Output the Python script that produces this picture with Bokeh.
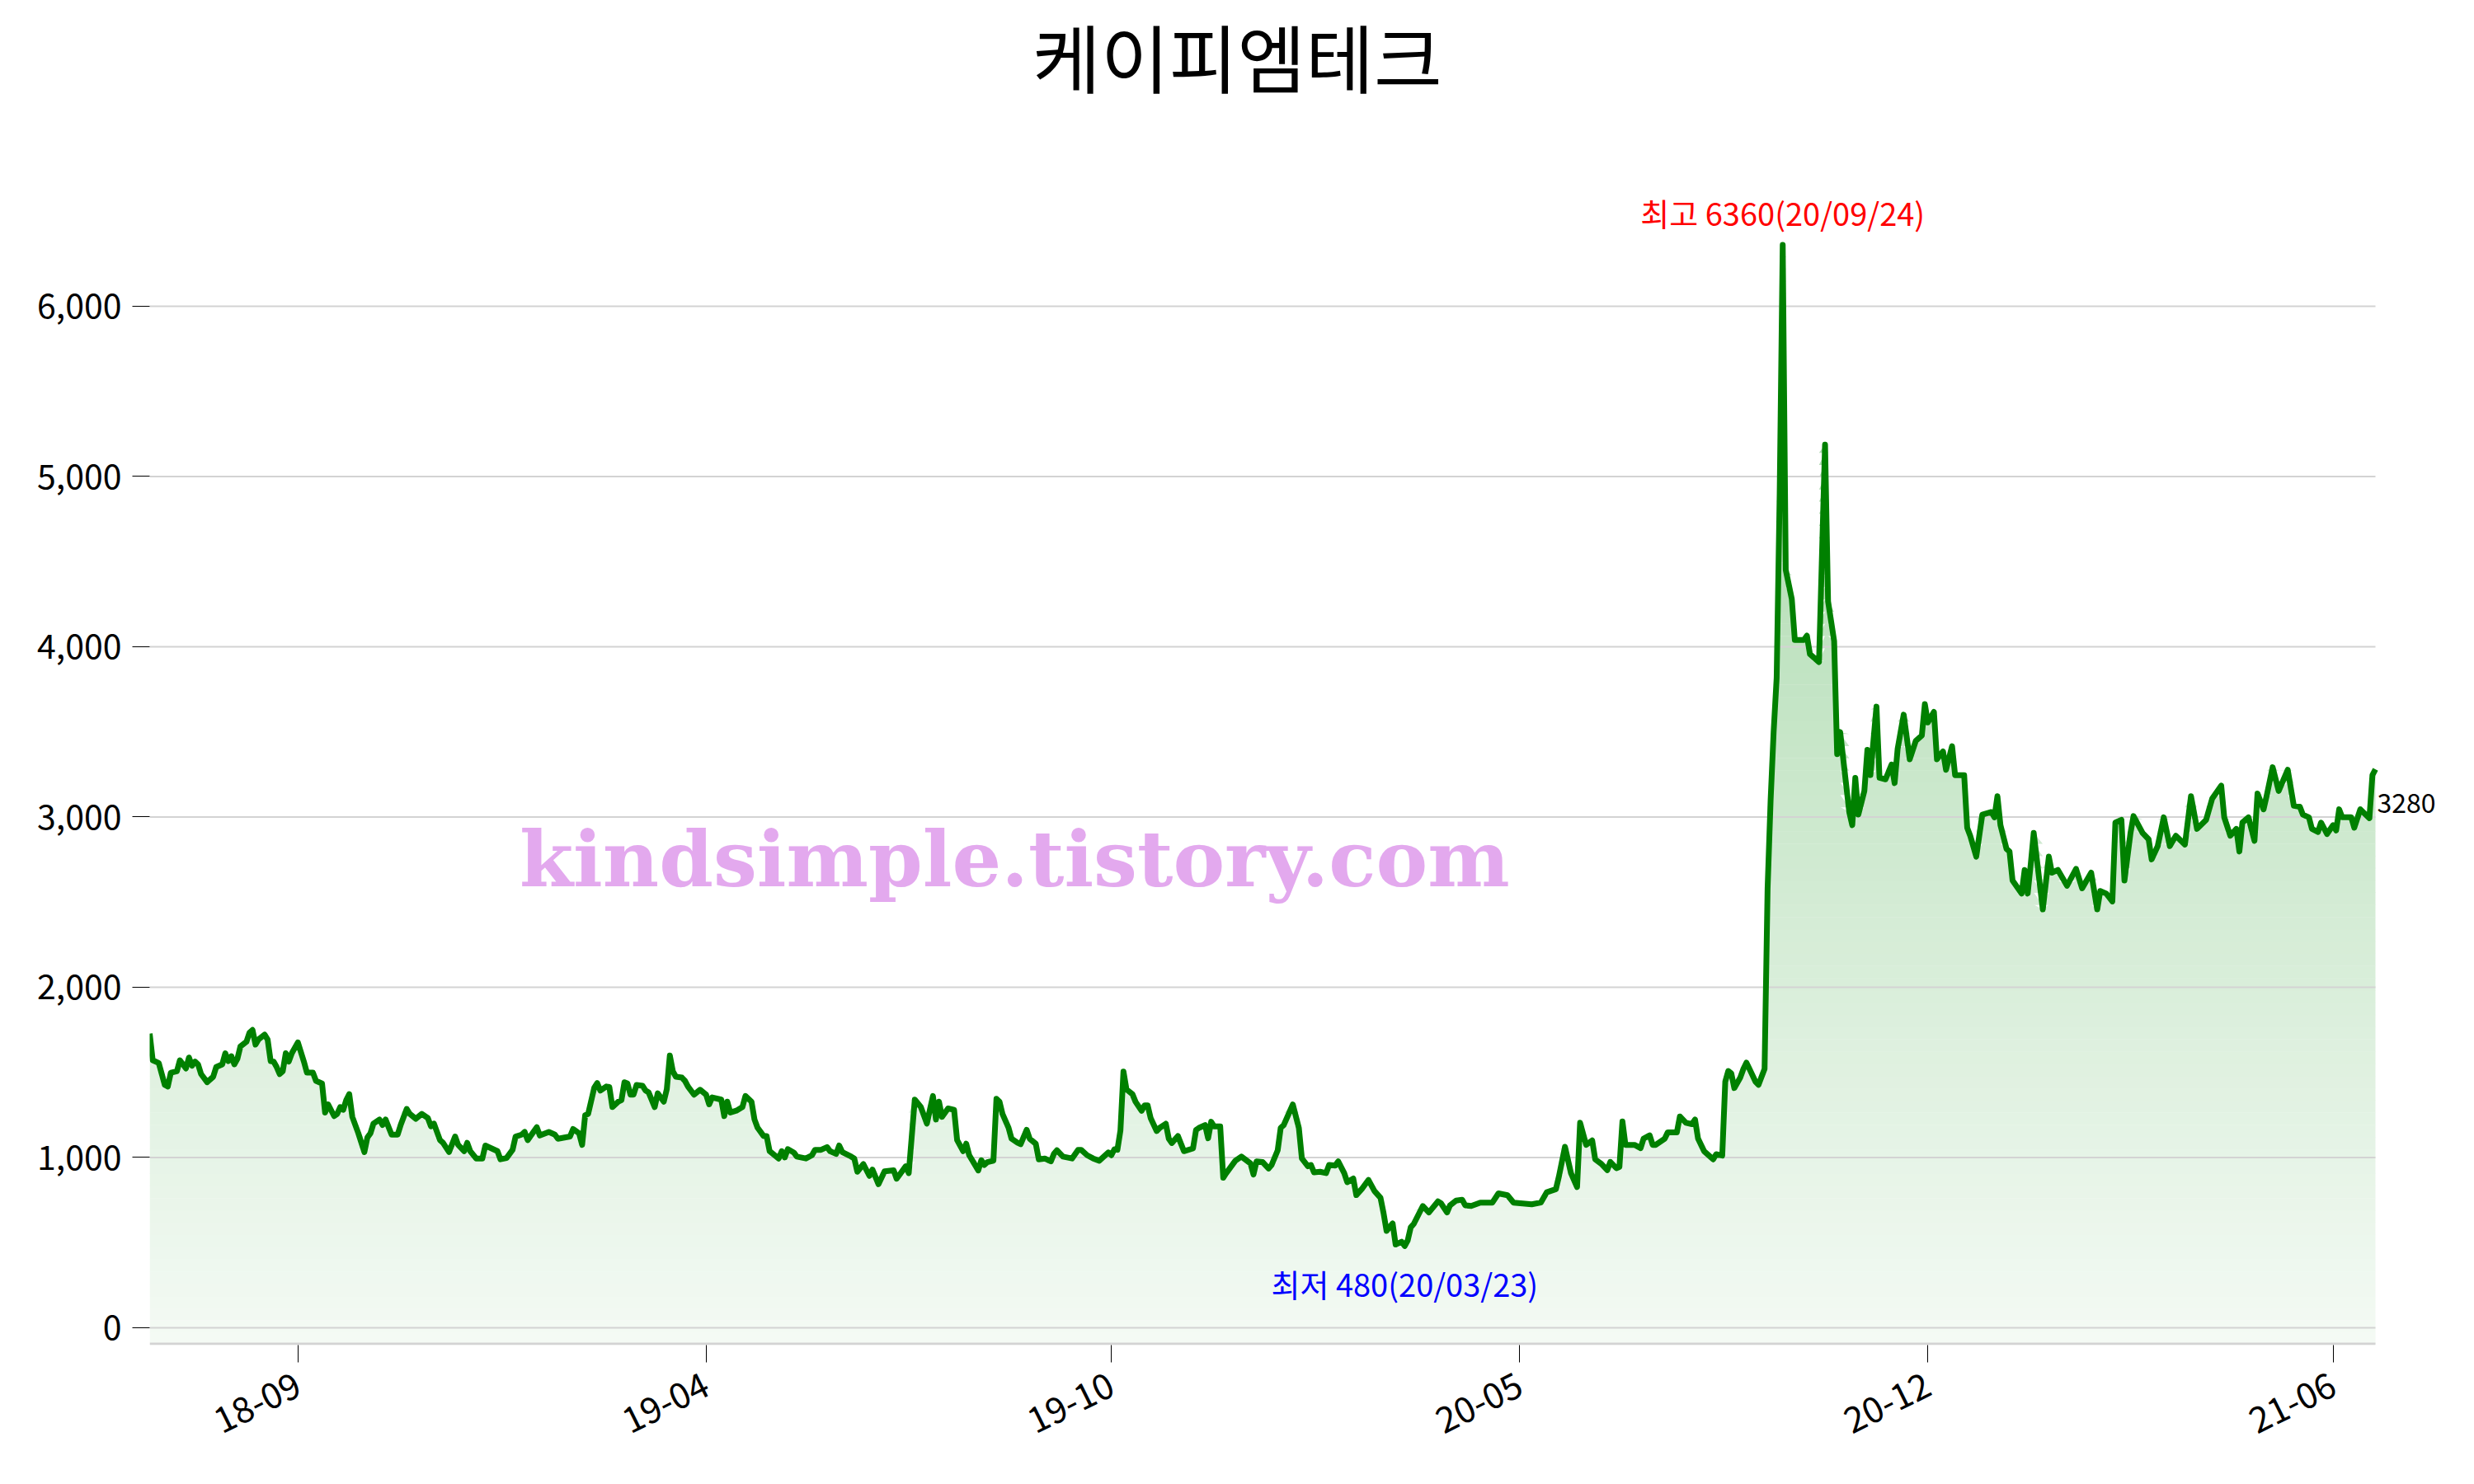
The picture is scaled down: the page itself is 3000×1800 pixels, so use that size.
import numpy as np
from bokeh.plotting import figure
from bokeh.models import FixedTicker, NumeralTickFormatter, Label
from bokeh.embed import file_html
from bokeh.resources import INLINE

title = "케이피엠테크"

# trading-day index and closing price
day = [0, 1, 3, 5, 6, 7, 9, 10, 12, 13, 14, 15, 16, 17, 19, 21, 22, 24, 25, 26, 27, 28, 29, 30, 32, 33, 34, 35, 36, 38,
       39, 40, 41, 42, 43, 44, 45, 46, 47, 49, 51, 52, 54, 55, 57, 58, 59, 61, 62, 63, 64, 65, 66, 67, 69, 71, 72, 73, 74, 76,
       77, 78, 80, 82, 83, 85, 86, 88, 90, 92, 93, 94, 96, 97, 99, 101, 102, 104, 105, 106, 108, 110, 111, 115, 116, 118, 120, 121, 123, 124,
       125, 128, 129, 132, 134, 135, 139, 140, 142, 143, 144, 145, 147, 148, 149,
       151, 152, 153, 155, 156, 157, 158, 159, 160, 161, 163, 164, 165, 167, 168, 170, 171, 172, 173, 174, 176, 177, 178, 180, 182,
       184, 185, 186, 189, 190, 191, 192, 194, 196, 197, 199, 200, 201, 203, 204, 205, 208, 209, 210, 211, 213, 214, 217, 219, 220,
       222, 224, 225, 227, 228, 229, 232, 233, 234, 236, 238, 239, 241, 243, 246, 247, 250, 251, 253, 255, 257, 258, 259, 260, 261,
       262, 264, 266, 267, 269, 270, 271, 274, 275, 276, 277, 279, 280, 281, 282, 284, 285, 287, 288, 290, 291,
       293, 294, 296, 298, 299, 300, 302, 305, 307, 308, 310, 312, 314, 317, 318, 319, 320, 321, 322, 323, 325, 326, 328, 329, 330,
       331, 333, 334, 336, 337, 338, 340, 342, 345, 346, 347, 349, 350, 351, 352, 354, 355, 356, 359, 361, 364, 365, 366, 368, 370,
       371, 373, 374, 375, 378, 380, 381, 383, 384, 385, 387, 389, 390, 392, 393, 395, 396, 398, 399, 401, 403, 405, 407, 408, 409,
       411, 412, 414, 415, 416, 417, 418, 421, 423, 426, 427, 429, 430, 432, 434, 435, 437, 440, 444,
       446, 449, 451, 454, 457, 460, 462, 465, 466, 468, 470, 472, 473, 475, 477, 478, 480, 482, 483, 485, 486, 487, 488, 491, 493,
       494, 496, 497, 498, 501, 502, 505, 506, 508, 510, 511, 512, 514, 517, 518, 520, 521, 522, 523, 524, 526, 527, 528, 529, 531,
       532, 534, 535, 536, 537, 538, 539, 540, 541, 543, 544, 547, 548, 549, 552, 554, 555, 557, 558, 559, 562, 563, 564, 565, 567,
       568, 569, 571, 572, 574, 576, 577, 578, 580, 582, 584, 586, 587, 588, 590, 591, 593, 594, 596, 597, 600, 601, 602, 604, 606,
       609, 610, 611, 612, 614, 615, 616, 619, 620, 621, 622, 623, 626, 628, 629, 631, 634, 637, 639, 642, 644, 645, 647, 649, 650,
       652, 653, 655, 656, 659, 661, 662, 664, 666, 668, 670, 673, 675, 677, 680, 682, 685, 686, 688, 690, 691, 692, 694, 696, 697,
       699, 700, 702, 704, 707, 709, 711, 712, 714, 715, 717, 718, 720, 722, 723, 724, 725, 728, 729, 731, 734, 735, 736]

close = [1728, 1571, 1555, 1426, 1417, 1498, 1506, 1571, 1523, 1587, 1539, 1563, 1547, 1490, 1442, 1474, 1531, 1547, 1612, 1566, 1595, 1547, 1579, 1652, 1680, 1733, 1749, 1663, 1693, 1722,
         1693, 1566, 1563, 1531, 1490, 1506, 1612, 1563, 1612, 1676, 1563, 1498, 1498, 1450, 1434, 1264, 1312, 1243, 1256, 1296, 1280, 1337, 1372, 1239, 1142, 1032, 1118, 1142, 1199, 1223,
         1191, 1223, 1134, 1134, 1191, 1285, 1256, 1227, 1256, 1231, 1183, 1199, 1102, 1086, 1032, 1123, 1074, 1037, 1086, 1037, 994, 994, 1070, 1037, 989, 997, 1045, 1123, 1134, 1150,
         1102, 1178, 1129, 1150, 1134, 1110, 1123, 1167, 1142, 1074, 1248, 1256, 1409, 1437, 1393,
         1417, 1414, 1296, 1328, 1337, 1442, 1434, 1369, 1369, 1426, 1421, 1393, 1382, 1296, 1377, 1328, 1401, 1599, 1506, 1474, 1469, 1450, 1417, 1369, 1398,
         1369, 1312, 1353, 1340, 1243, 1328, 1264, 1275, 1296, 1361, 1328, 1223, 1175, 1126, 1126, 1037, 994, 1037, 1000, 1049, 1029, 1005, 994, 1013, 1045,
         1045, 1061, 1037, 1021, 1070, 1032, 1005, 994, 916, 961, 892, 929, 843, 919, 925, 875, 948, 908, 1340, 1296, 1199, 1280, 1361, 1223, 1328,
         1239, 1288, 1280, 1102, 1037, 1081, 1013, 924, 984, 956, 972, 981, 1345, 1328, 1256, 1175, 1110, 1086, 1078, 1162, 1110,
         1081, 989, 994, 977, 1021, 1042, 1005, 994, 1045, 1045, 1013, 994, 981, 1029, 1013, 1048, 1045, 1158, 1505, 1400, 1371, 1327, 1274, 1306, 1306,
         1231, 1155, 1174, 1198, 1110, 1085, 1126, 1037, 1053, 1161, 1174, 1190, 1113, 1210, 1182, 1182, 881, 908, 981, 1005, 965, 900, 977, 973, 935,
         956, 1042, 1174, 1190, 1311, 1174, 994, 948, 956, 913, 916, 908, 956, 952, 977, 908, 855, 876, 779, 819, 868, 803, 763, 674, 569,
         613, 489, 505, 480, 513, 590, 610, 715, 677, 742, 731, 677, 719, 747, 752, 719, 715, 735, 735,
         789, 778, 735, 730, 725, 735, 796, 814, 889, 1063, 907, 826, 1204, 1074, 1100, 989, 963, 926, 974, 937, 944, 1212, 1074, 1074, 1055,
         1111, 1130, 1074, 1074, 1111, 1148, 1148, 1241, 1204, 1196, 1223, 1111, 1037, 989, 1019, 1011, 1445, 1508, 1494, 1408, 1471, 1520, 1557, 1520, 1445,
         1427, 1520, 2580, 3100, 3500, 3818, 4900, 6360, 4451, 4281, 4040, 4040, 4065, 3957, 3910, 5187, 4266, 4034, 3369, 3499, 3029, 2952, 3230, 3014, 3153,
         3394, 3246, 3648, 3230, 3221, 3308, 3199, 3400, 3601, 3339, 3447, 3478, 3663, 3555, 3617, 3339, 3385, 3277, 3416, 3246, 3246, 2937, 2890, 2767, 3014,
         3029, 2998, 3122, 2952, 2813, 2797, 2627, 2550, 2689, 2550, 2720, 2906, 2457, 2767, 2673, 2689, 2596, 2695, 2581, 2673, 2457, 2565, 2550, 2504, 2967,
         2983, 2627, 2906, 3005, 2906, 2869, 2751, 2829, 2998, 2829, 2890, 2838, 3122, 2930, 2983, 3107, 3184, 2998, 2890, 2930, 2797, 2967, 2998, 2860, 3138,
         3045, 3122, 3292, 3153, 3277, 3066, 3060, 3014, 2998, 2930, 2912, 2967, 2900, 2952, 2921, 3045, 2998, 2998, 2937, 3045, 2993, 3246, 3280]

tick_days = [49, 184, 318, 453, 588, 722]
tick_labels = ["18-09", "19-04", "19-10", "20-05", "20-12", "21-06"]
y_ticks = [0, 1000, 2000, 3000, 4000, 5000, 6000]
max_date = "20/09/24"
min_date = "20/03/23"
watermark = "kindsimple.tistory.com"

day_a = np.array(day, dtype=float)
close_a = np.array(close, dtype=float)
last = float(day_a[-1])

# canvas / frame geometry (pixels)
W, H = 2984, 1784
LEFT, BOTTOM = 181, 153           # frame left, space below frame
FRAME_R, FRAME_T = 4, 4           # frame extends almost to canvas edge (room for labels)
PLOT_R = 2880                     # where the data area ends visually
frame_w = W - LEFT - FRAME_R
frame_h = H - BOTTOM - FRAME_T
px_per_day = (PLOT_R - LEFT) / last
px_per_unit = 0.2065
Y0 = -102.0
Y1 = Y0 + frame_h / px_per_unit
X1 = frame_w / px_per_day

p = figure(width=W, height=H, output_backend="svg", toolbar_location=None,
           x_range=(0, X1), y_range=(Y0, Y1),
           min_border_left=LEFT, min_border_right=FRAME_R, min_border_top=FRAME_T, min_border_bottom=BOTTOM)
p.background_fill_color = "white"
p.border_fill_color = "white"
p.outline_line_color = None
p.title.visible = False
for g in p.grid:
    g.grid_line_color = None

# gradient fill under the line, built from horizontal bands
top = float(close_a.max())
levels = np.linspace(Y0, top, 91)
for k in range(len(levels) - 1):
    lo, hi = levels[k], levels[k + 1]
    mid = 0.5 * (lo + hi)
    a = 0.06 + 0.46 * (mid - Y0) / (top - Y0)
    col = "#%02x%02x%02x" % (round(255 - 179 * a), round(255 - 80 * a), round(255 - 175 * a))
    y2 = np.clip(close_a, lo, hi + 2)
    p.varea(x=day_a, y1=np.full_like(day_a, lo), y2=y2, fill_color=col, fill_alpha=1.0)

# horizontal grid lines, limited to the data area
n = len(y_ticks)
p.segment(x0=[0.0] * n, x1=[last] * n, y0=y_ticks, y1=y_ticks, line_color="#d3d3d3", line_width=2)
# bottom axis line, limited to the data area
ax_y = Y0 + 1.5 / px_per_unit
p.segment(x0=[0.0], x1=[last], y0=[ax_y], y1=[ax_y], line_color="#d3d3d3", line_width=3)

p.line(day_a, close_a, line_color="#008000", line_width=7, line_join="round")

# axes
p.yaxis.ticker = FixedTicker(ticks=y_ticks)
p.yaxis.formatter = NumeralTickFormatter(format="0,0")
p.yaxis.axis_line_color = None
p.yaxis.major_tick_line_color = "black"
p.yaxis.major_tick_line_width = 1
p.yaxis.major_tick_out = 21
p.yaxis.major_tick_in = 0
p.yaxis.minor_tick_line_color = None
p.yaxis.major_label_text_font = "Noto Sans CJK KR"
p.yaxis.major_label_text_font_size = "41px"
p.yaxis.major_label_text_color = "black"
p.yaxis.major_label_standoff = 13

p.xaxis.ticker = FixedTicker(ticks=tick_days)
p.xaxis.major_label_overrides = {t: l for t, l in zip(tick_days, tick_labels)}
p.xaxis.axis_line_color = None
p.xaxis.major_tick_line_color = "black"
p.xaxis.major_tick_line_width = 1
p.xaxis.major_tick_out = 21
p.xaxis.major_tick_in = 0
p.xaxis.minor_tick_line_color = None
p.xaxis.major_label_orientation = 0.46
p.xaxis.major_label_text_font = "Noto Sans CJK KR"
p.xaxis.major_label_text_font_size = "43px"
p.xaxis.major_label_text_color = "black"
p.xaxis.major_label_standoff = 24

# title (as a label centred on the page)
p.add_layout(Label(x=round((1500 - LEFT) / px_per_day, 2), y=round((1610 - 67) / px_per_unit, 1), text=title,
                   text_align="center", text_baseline="middle",
                   text_font="Noto Sans CJK KR", text_font_size="90px", text_color="black"))

# annotations
imax = int(np.argmax(close_a))
imin = int(np.argmin(close_a))
p.add_layout(Label(x=float(day_a[imax]), y=float(close_a[imax]), text=f"최고 {int(close_a[imax])}({max_date})",
                   text_align="center", text_baseline="bottom", y_offset=12,
                   text_font="Noto Sans CJK KR", text_font_size="38px", text_color="red"))
p.add_layout(Label(x=float(day_a[imin]), y=float(close_a[imin]), text=f"최저 {int(close_a[imin])}({min_date})",
                   text_align="center", text_baseline="top", y_offset=-18,
                   text_font="Noto Sans CJK KR", text_font_size="38px", text_color="blue"))
p.add_layout(Label(x=last, y=float(close_a[-1]), text=f"{int(close_a[-1])}",
                   text_align="left", text_baseline="middle", x_offset=2, y_offset=-41,
                   text_font="Noto Sans CJK KR", text_font_size="32px", text_color="black"))

# watermark (kept last)
p.add_layout(Label(x=286, y=2755, text=watermark, text_align="center", text_baseline="alphabetic",
                   text_font="DejaVu Serif", text_font_style="bold", text_font_size="94px",
                   text_color="#e3a9ee"))

open("out.html", "w").write(file_html(p, INLINE))
